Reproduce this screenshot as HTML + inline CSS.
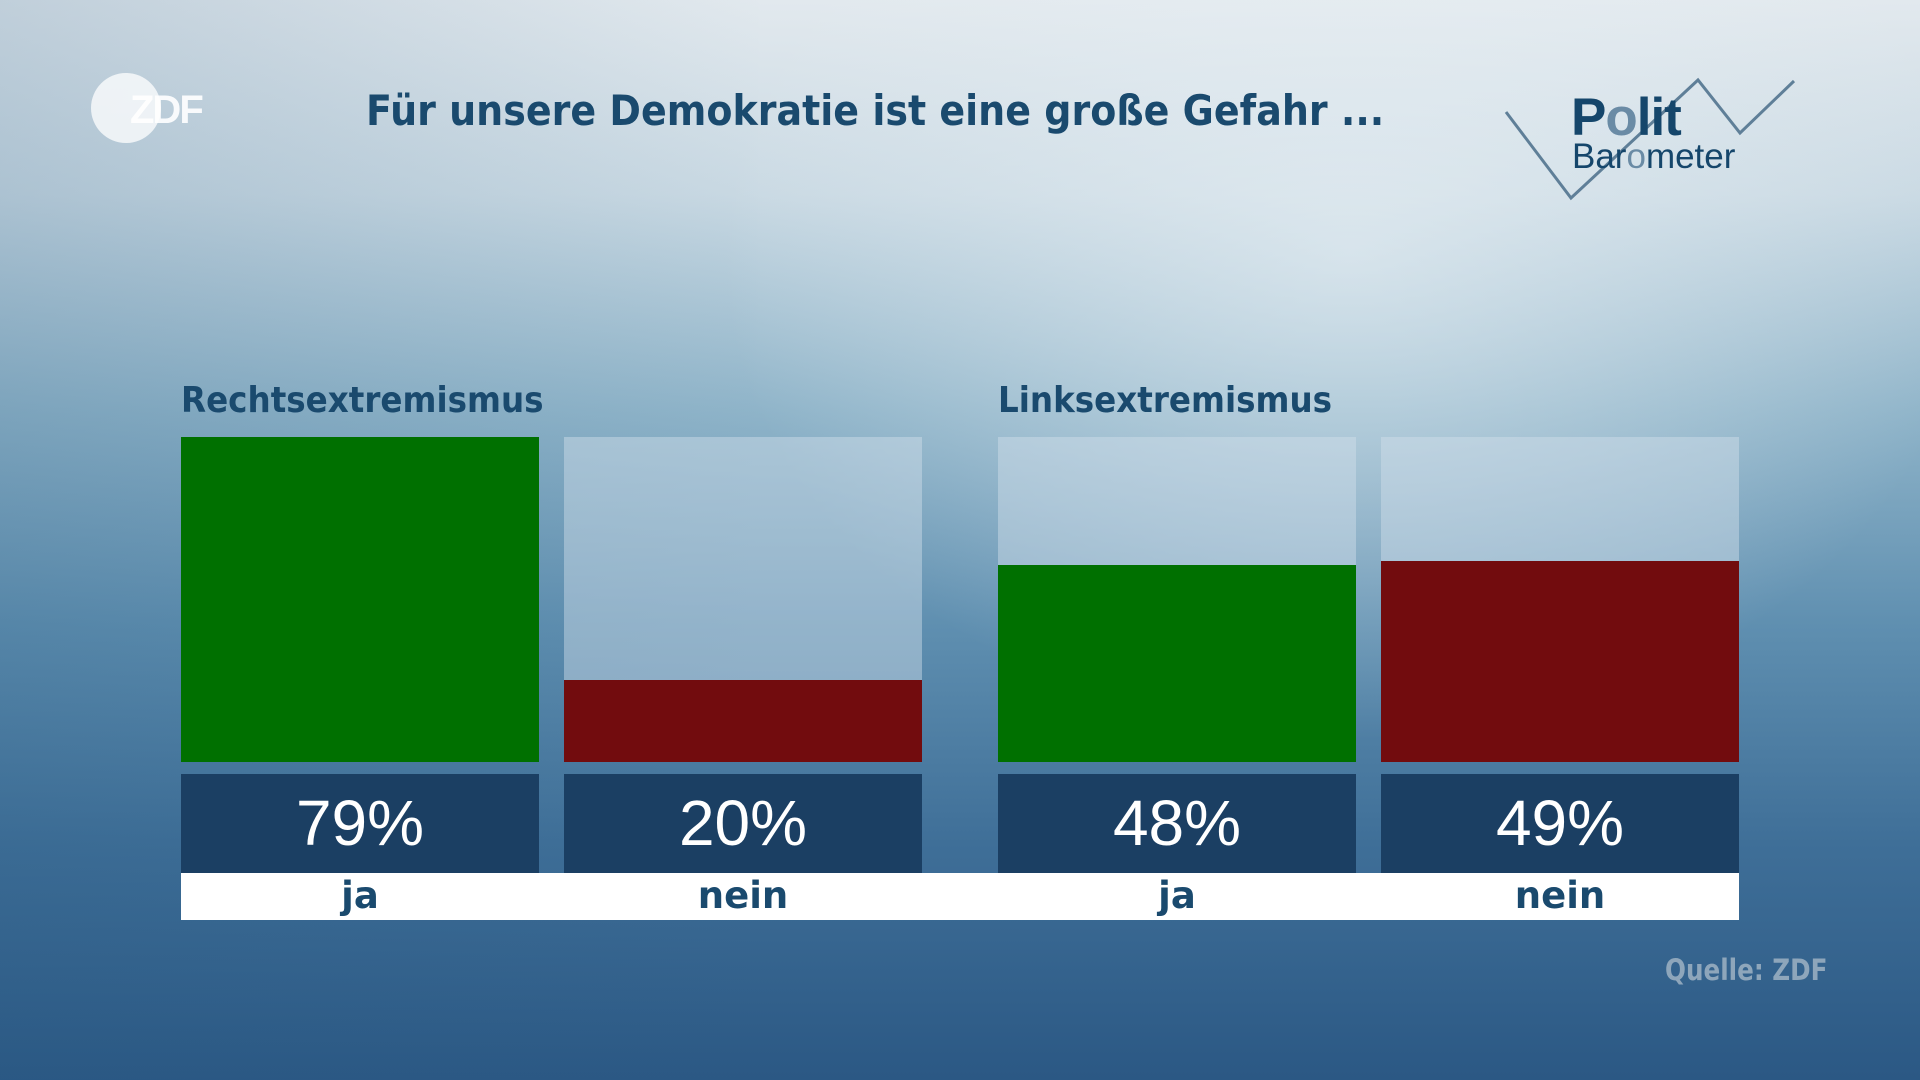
<!DOCTYPE html>
<html><head><meta charset="utf-8">
<style>
body{margin:0;width:1920px;height:1080px;overflow:hidden;position:relative;font-family:"Liberation Sans",sans-serif;
background:linear-gradient(180deg,#e2e9ee 0%,#c9d9e3 18%,#8fb4c9 38%,#5f8fb0 58%,#3f6f98 78%,#2b5884 100%);}
.ov{position:absolute;inset:0;background:radial-gradient(ellipse 900px 700px at 1350px 250px,rgba(235,242,246,0.6),rgba(235,242,246,0) 70%);}
.ov2{position:absolute;inset:0;background:linear-gradient(90deg,rgba(40,90,130,0.18),rgba(40,90,130,0) 40%);}
.t{position:absolute;white-space:nowrap}
.title{left:366px;top:86px;font-size:42px;font-weight:bold;color:#1a4a6e;font-family:"DejaVu Sans",sans-serif;transform:scaleX(0.905);transform-origin:left}
.cat{top:380px;font-size:36px;font-weight:bold;color:#1a4a6e;font-family:"DejaVu Sans",sans-serif;transform:scaleX(0.905);transform-origin:left}
.bg{position:absolute;top:437px;height:325px;width:358px;background:rgba(210,225,235,0.45)}
.bar{position:absolute;bottom:318px;width:358px}
.pct{position:absolute;top:774px;height:99px;width:358px;background:#1b3f63;color:#fff;font-size:64px;text-align:center;line-height:99px}
.lab{position:absolute;top:873px;height:47px;background:#fff}
.l{position:absolute;top:873px;width:358px;text-align:center;font-size:37px;font-weight:bold;color:#1a4a6e;line-height:46px;font-family:"DejaVu Sans",sans-serif}
</style></head><body>
<div class="ov"></div><div class="ov2"></div>
<div style="position:absolute;left:91px;top:73px;width:70px;height:70px;border-radius:50%;background:rgba(255,255,255,0.75)"></div>
<div class="t" style="left:130px;top:88px;font-size:40px;font-weight:bold;color:rgba(255,255,255,0.9);letter-spacing:-2px">ZDF</div>
<div class="t title">Für unsere Demokratie ist eine große Gefahr ...</div>
<svg style="position:absolute;left:0;top:0" width="1920" height="220"><polyline points="1506,112 1571,198 1698,80 1740,133 1794,81" fill="none" stroke="#5f7f98" stroke-width="3"/></svg>
<div class="t" style="left:1571px;top:87px;font-size:53px;font-weight:bold;color:#15466b;letter-spacing:-1px">P<span style="color:#6a8ba5">o</span>lit</div>
<div class="t" style="left:1572px;top:137px;font-size:35px;color:#15466b">Bar<span style="color:#6a8ba5">o</span>meter</div>
<div class="t cat" style="left:181px">Rechtsextremismus</div>
<div class="t cat" style="left:998px">Linksextremismus</div>
<div class="bg" style="left:181px"></div><div class="bg" style="left:564px"></div><div class="bg" style="left:998px"></div><div class="bg" style="left:1381px"></div>
<div class="bar" style="left:181px;height:325px;background:#007000"></div>
<div class="bar" style="left:564px;height:82px;background:#720c0e"></div>
<div class="bar" style="left:998px;height:197px;background:#007000"></div>
<div class="bar" style="left:1381px;height:201px;background:#720c0e"></div>
<div class="pct" style="left:181px">79%</div><div class="pct" style="left:564px">20%</div><div class="pct" style="left:998px">48%</div><div class="pct" style="left:1381px">49%</div>
<div class="lab" style="left:181px;width:1558px"></div>
<div class="l" style="left:181px">ja</div><div class="l" style="left:564px">nein</div><div class="l" style="left:998px">ja</div><div class="l" style="left:1381px">nein</div>
<div class="t" style="left:1665px;top:953px;font-size:29px;font-weight:bold;color:#8ea6bb;font-family:'DejaVu Sans',sans-serif;transform:scaleX(0.85);transform-origin:left">Quelle: ZDF</div>
</body></html>
